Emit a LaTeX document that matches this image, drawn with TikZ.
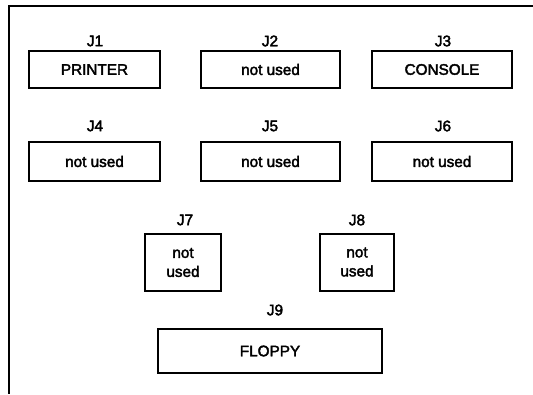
\documentclass[tikz,border=0pt]{standalone}
\usepackage{fontspec}
\setmainfont{Liberation Sans}
\newfontfamily\jfont{Liberation Sans}[FakeBold=2.5]
\begin{document}
\begin{tikzpicture}[x=1pt,y=-1pt,
  jbox/.style={draw,line width=2pt,inner sep=0pt,align=center,font=\jfont\fontsize{15.3}{17}\selectfont},
  jlabel/.style={inner sep=0pt,font=\jfont\fontsize{15.3}{17}\selectfont}]
\useasboundingbox (0,0) rectangle (533,394);
\coordinate (fa) at (533,6);
\coordinate (fb) at (9,6);
\coordinate (fc) at (9,394);
\draw[line width=2pt] (fa) -- (fb) -- (fc);
% row 1
\node[jbox,minimum width=131pt,minimum height=37pt] (b1) at (94.5,69.5) {PRINTER};
\node[jbox,minimum width=139pt,minimum height=37pt] (b2) at (270.5,69.5) {not used};
\node[jbox,minimum width=140pt,minimum height=37pt] (b3) at (442,69.5) {CONSOLE};
\node[jlabel] (l1) at (95,41) {J1};
\node[jlabel] (l2) at (270,41) {J2};
\node[jlabel] (l3) at (443,41) {J3};
% row 2
\node[jbox,minimum width=131pt,minimum height=39pt] (b4) at (94.5,161.5) {not used};
\node[jbox,minimum width=139pt,minimum height=39pt] (b5) at (270.5,161.5) {not used};
\node[jbox,minimum width=140pt,minimum height=39pt] (b6) at (442,161.5) {not used};
\node[jlabel] (l4) at (95,126) {J4};
\node[jlabel] (l5) at (270,126) {J5};
\node[jlabel] (l6) at (443,126) {J6};
% row 3
\node[jbox,minimum width=76pt,minimum height=57pt] (b7) at (183,262.5) {not\\[2pt]used};
\node[jbox,minimum width=74pt,minimum height=57pt] (b8) at (357,262) {not\\[2pt]used};
\node[jlabel] (l7) at (185,220) {J7};
\node[jlabel] (l8) at (357,220) {J8};
% row 4
\node[jbox,minimum width=224pt,minimum height=44pt] (b9) at (270,351) {FLOPPY};
\node[jlabel] (l9) at (275,310) {J9};
\end{tikzpicture}
\end{document}
